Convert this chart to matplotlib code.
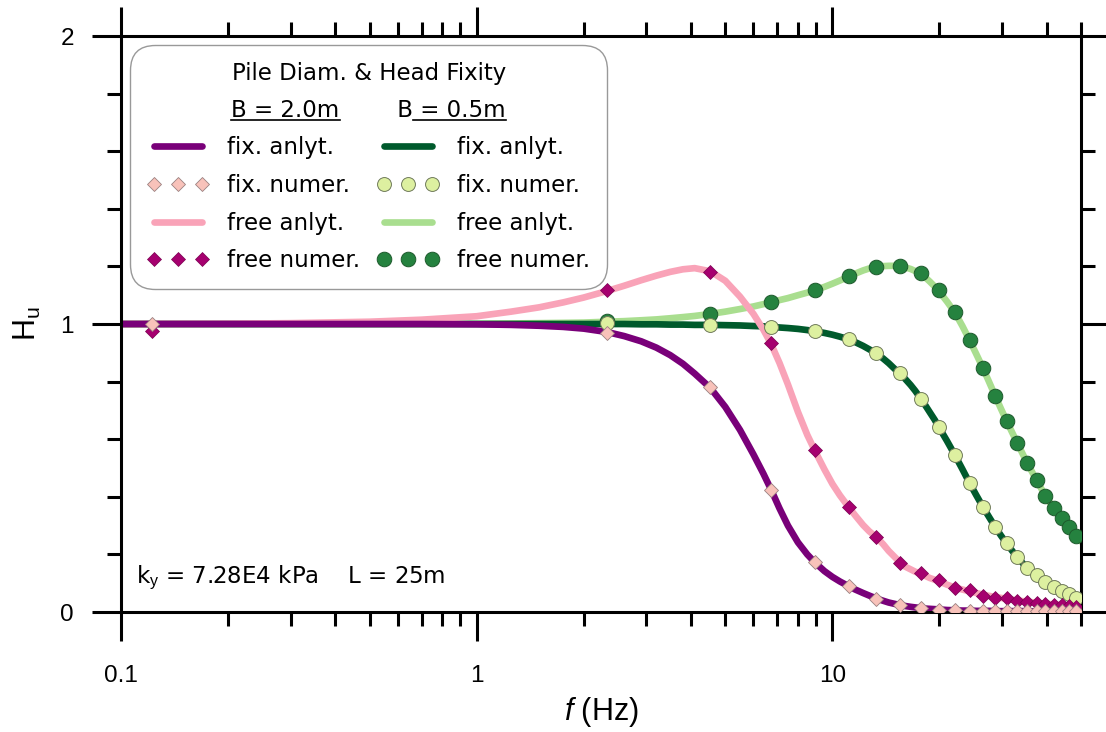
import matplotlib
matplotlib.use('Agg')
import matplotlib.pyplot as plt
from matplotlib.ticker import FixedLocator, FixedFormatter, LogLocator, NullFormatter, MultipleLocator, FormatStrFormatter

plt.rcParams['font.family'] = ['Liberation Sans', 'DejaVu Sans']
plt.rcParams['mathtext.fontset'] = 'custom'
plt.rcParams['mathtext.rm'] = 'Liberation Sans'
plt.rcParams['mathtext.it'] = 'Liberation Sans:italic'

# frequencies of the numerical runs (Hz)
f_num = [0.122, 2.33, 4.53, 6.73, 8.93, 11.1, 13.3, 15.5, 17.7, 19.9, 22.1, 24.3,
         26.5, 28.7, 30.9, 33.1, 35.3, 37.5, 39.7, 41.9, 44.1, 46.3, 48.5]

# B = 2.0m, numerical
fix_num_20 = [1.0, 0.969, 0.781, 0.424, 0.174, 0.092, 0.045, 0.024, 0.014, 0.008, 0.006, 0.005,
              0.004, 0.004, 0.003, 0.003, 0.003, 0.003, 0.002, 0.002, 0.002, 0.002, 0.002]
free_num_20 = [0.976, 1.118, 1.181, 0.934, 0.563, 0.365, 0.261, 0.170, 0.135, 0.111, 0.083, 0.076,
               0.056, 0.049, 0.047, 0.038, 0.035, 0.031, 0.028, 0.026, 0.024, 0.021, 0.019]

# B = 0.5m, numerical (no point at the lowest frequency)
fix_num_05 = [1.003, 0.997, 0.990, 0.976, 0.948, 0.899, 0.830, 0.740, 0.642, 0.545, 0.448,
              0.365, 0.295, 0.240, 0.191, 0.153, 0.128, 0.104, 0.087, 0.073, 0.062, 0.049]
free_num_05 = [1.010, 1.035, 1.076, 1.118, 1.165, 1.197, 1.201, 1.177, 1.118, 1.040, 0.944,
               0.847, 0.750, 0.663, 0.587, 0.517, 0.458, 0.403, 0.361, 0.326, 0.294, 0.265]

# analytical solutions
f_an = [0.1, 0.2, 0.3, 0.5, 0.7, 1.0, 1.25, 1.5, 1.75, 2.0,
        2.33, 2.6, 2.9, 3.2, 3.5, 3.8, 4.1, 4.54, 5.0, 5.5,
        6.0, 6.4, 6.73, 7.1, 7.5, 8.0, 8.5, 8.93, 9.5, 10.0,
        10.5, 11.1, 11.6, 12.2, 12.7, 13.3, 13.9, 14.4, 15.0, 15.5,
        16.0, 16.6, 17.1, 17.7, 18.2, 18.8, 19.4, 19.9, 21.0, 22.1,
        23.2, 24.3, 25.4, 26.5, 27.6, 28.7, 29.8, 30.9, 32.0, 33.1,
        35.3, 37.5, 39.7, 41.9, 44.1, 46.3, 48.5, 50.0]
fix_an_20 = [1.0, 1.0, 1.0, 1.0, 1.0, 0.999, 0.997, 0.994, 0.99, 0.984,
             0.972, 0.958, 0.94, 0.918, 0.892, 0.862, 0.828, 0.778, 0.712, 0.632,
             0.547, 0.48, 0.424, 0.36, 0.3, 0.242, 0.2, 0.172, 0.142, 0.122,
             0.106, 0.09, 0.078, 0.066, 0.057, 0.047, 0.039, 0.033, 0.028, 0.024,
             0.021, 0.018, 0.016, 0.014, 0.012, 0.011, 0.01, 0.009, 0.007, 0.006,
             0.005, 0.005, 0.004, 0.004, 0.004, 0.003, 0.003, 0.003, 0.003, 0.003,
             0.003, 0.002, 0.002, 0.002, 0.002, 0.002, 0.002, 0.002]
free_an_20 = [1.0, 1.001, 1.003, 1.008, 1.015, 1.027, 1.043, 1.058, 1.075, 1.092,
              1.115, 1.133, 1.152, 1.168, 1.181, 1.19, 1.194, 1.183, 1.15, 1.095,
              1.035, 0.98, 0.93, 0.865, 0.79, 0.695, 0.615, 0.56, 0.495, 0.445,
              0.405, 0.365, 0.335, 0.302, 0.28, 0.26, 0.235, 0.212, 0.19, 0.172,
              0.158, 0.148, 0.14, 0.133, 0.126, 0.118, 0.112, 0.107, 0.095, 0.085,
              0.078, 0.072, 0.066, 0.06, 0.056, 0.052, 0.049, 0.046, 0.043, 0.04,
              0.036, 0.032, 0.029, 0.026, 0.024, 0.022, 0.02, 0.019]
fix_an_05 = [1.0, 1.0, 1.0, 1.0, 1.0, 1.0, 1.0, 1.0, 1.0, 1.0,
             1.0, 1.0, 0.999, 0.999, 0.998, 0.998, 0.997, 0.997, 0.996, 0.995,
             0.993, 0.992, 0.99, 0.988, 0.986, 0.983, 0.979, 0.975, 0.969, 0.963,
             0.956, 0.947, 0.937, 0.924, 0.912, 0.898, 0.88, 0.864, 0.843, 0.828,
             0.81, 0.788, 0.768, 0.742, 0.72, 0.693, 0.667, 0.643, 0.594, 0.545,
             0.496, 0.448, 0.405, 0.365, 0.329, 0.295, 0.265, 0.238, 0.213, 0.19,
             0.153, 0.127, 0.104, 0.087, 0.073, 0.061, 0.05, 0.045]
free_an_05 = [1.0, 1.0, 1.0, 1.0, 1.0, 1.001, 1.002, 1.003, 1.004, 1.005,
              1.008, 1.01, 1.013, 1.016, 1.02, 1.024, 1.028, 1.035, 1.043, 1.052,
              1.061, 1.069, 1.076, 1.083, 1.09, 1.1, 1.109, 1.118, 1.129, 1.14,
              1.151, 1.164, 1.175, 1.186, 1.193, 1.198, 1.201, 1.202, 1.202, 1.2,
              1.197, 1.191, 1.184, 1.175, 1.163, 1.147, 1.13, 1.115, 1.078, 1.04,
              0.993, 0.944, 0.895, 0.847, 0.798, 0.75, 0.705, 0.663, 0.624, 0.587,
              0.517, 0.458, 0.403, 0.361, 0.325, 0.293, 0.265, 0.245]

c_purple = '#790079'
c_pink = '#F9A3B8'
c_pink_lt = '#F8C2BA'
c_magenta = '#A6006F'
c_green_dk = '#005A2C'
c_green_lt = '#A9DE8F'
c_green_pale = '#DDF0A0'
c_green_mid = '#25823F'

box_font = 'DejaVu Sans'
box_size = 16.5
head_1 = 'B = 2.0m'
head_2 = 'B = 0.5m'
head_gap = ' ' * 8

fig = plt.figure(figsize=(11.06, 7.32), dpi=100)
ax = fig.add_axes([0.1094, 0.1639, 0.868, 0.7869])

lw = 4.8
l_free05, = ax.plot(f_an, free_an_05, color=c_green_lt, lw=lw, solid_capstyle='round', zorder=2)
l_fix05, = ax.plot(f_an, fix_an_05, color=c_green_dk, lw=lw, solid_capstyle='round', zorder=2)
l_free20, = ax.plot(f_an, free_an_20, color=c_pink, lw=lw, solid_capstyle='round', zorder=2)
l_fix20, = ax.plot(f_an, fix_an_20, color=c_purple, lw=lw, solid_capstyle='round', zorder=2)

m_free05, = ax.plot(f_num[1:], free_num_05, 'o', ms=10.5, mfc=c_green_mid, mec='#1d5a2c',
                    mew=0.7, zorder=3)
m_fix05, = ax.plot(f_num[1:], fix_num_05, 'o', ms=10, mfc=c_green_pale, mec='#6f7a5a',
                   mew=0.7, zorder=3)
m_free20, = ax.plot(f_num, free_num_20, 'D', ms=7, mfc=c_magenta, mec='#7a0050',
                    mew=0.5, zorder=4)
m_fix20, = ax.plot(f_num, fix_num_20, 'D', ms=7, mfc=c_pink_lt, mec='#9a8080',
                   mew=0.6, zorder=4)

ax.set_xscale('log')
ax.set_xlim(0.1, 50)
ax.set_ylim(0, 2)
ax.xaxis.set_major_locator(FixedLocator([0.1, 1, 10]))
ax.xaxis.set_major_formatter(FixedFormatter(['0.1', '1', '10']))
ax.xaxis.set_minor_locator(LogLocator(base=10, subs=range(2, 10)))
ax.xaxis.set_minor_formatter(NullFormatter())
ax.yaxis.set_major_locator(MultipleLocator(1))
ax.yaxis.set_minor_locator(MultipleLocator(0.2))
ax.yaxis.set_major_formatter(FormatStrFormatter('%d'))

for s in ax.spines.values():
    s.set_linewidth(2.2)
ax.tick_params(which='both', direction='out', top=True, right=True, width=2.2)
ax.tick_params(which='major', length=21, labelsize=17.5)
ax.tick_params(which='minor', length=10)
ax.tick_params(axis='x', which='major', pad=17)
ax.tick_params(axis='y', which='major', pad=13)

ax.set_xlabel('$f$ (Hz)', fontsize=22, labelpad=6)
ax.set_ylabel('H$_\\mathrm{u}$', fontsize=22, labelpad=12)

ax.text(0.016, 0.06, 'k$_\\mathrm{y}$ = 7.28E4 kPa    L = 25m', transform=ax.transAxes,
        family=box_font, fontsize=box_size, va='center', ha='left')

handles = [l_fix20, m_fix20, l_free20, m_free20, l_fix05, m_fix05, l_free05, m_free05]
labels = ['fix. anlyt.', 'fix. numer.', 'free anlyt.', 'free numer.'] * 2
leg = ax.legend(handles, labels, ncol=2, loc='upper left', bbox_to_anchor=(0.0094, 0.984),
                borderaxespad=0, prop={'family': box_font, 'size': box_size},
                title='Pile Diam. & Head Fixity\n' + head_1 + head_gap + head_2,
                title_fontproperties={'family': box_font, 'size': box_size},
                numpoints=3, handlelength=2.7, handletextpad=0.79,
                columnspacing=0.75, labelspacing=0.64, borderpad=0.74, fancybox=True,
                framealpha=1, edgecolor='#999999')
title = leg.get_title()
title.set_multialignment('center')
title.set_linespacing(1.75)
leg.get_frame().set_linewidth(1.0)
leg.get_frame().set_boxstyle('round', pad=0, rounding_size=1.1)
leg.set_zorder(5)

# underline the two column headers of the legend title
fig.canvas.draw()
r = fig.canvas.get_renderer()


def text_width(s):
    t = fig.text(0, 0, s, family=box_font, fontsize=box_size)
    w = t.get_window_extent(r).width
    t.remove()
    return w


tb = title.get_window_extent(r)
w_line = text_width(head_1 + head_gap + head_2)
x_start = (tb.x0 + tb.x1) / 2 - w_line / 2
x_h1 = x_start + text_width(head_1)
x_b2 = x_start + text_width(head_1 + head_gap + 'B')
x_end = x_start + w_line
y_ul = tb.y0 + 1.5
inv = ax.transAxes.inverted()
(a0, ay), (a1, _) = inv.transform([(x_start, y_ul), (x_h1, y_ul)])
(b0, _), (b1, _) = inv.transform([(x_b2, y_ul), (x_end, y_ul)])
ax.plot([a0, a1], [ay, ay], transform=ax.transAxes, color='k', lw=1.2, clip_on=False, zorder=6)
ax.plot([b0, b1], [ay, ay], transform=ax.transAxes, color='k', lw=1.2, clip_on=False, zorder=6)

fig.savefig('out.png', dpi=100)
